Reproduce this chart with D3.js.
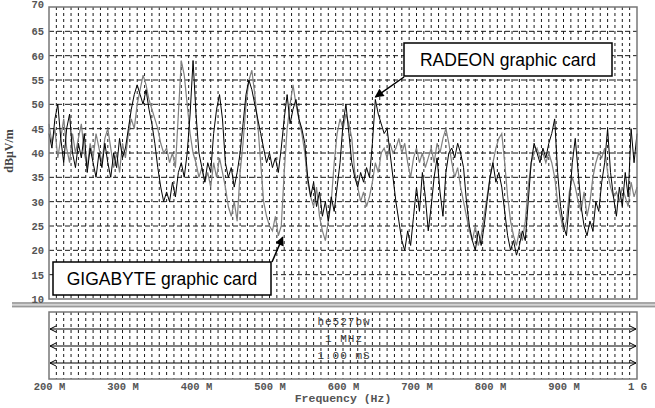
<!DOCTYPE html>
<html>
<head>
<meta charset="utf-8">
<script src="https://cdn.jsdelivr.net/npm/d3@7"></script>
<style>
  body { margin: 0; background: #fff; }
  svg { display: block; }
</style>
</head>
<body>
<div id="chart"></div>
<script>
// sample grid: 200 MHz .. 1 GHz, every 4 MHz
const freqs = d3.range(200, 1001, 4);

// RADEON graphic card (black trace), dBuV/m
const radeon = [
  44, 41, 47, 50, 43, 38, 45, 48, 40, 37,
  42, 39, 44, 36, 41, 38, 35, 40, 37, 42,
  38, 35, 40, 37, 43, 39, 41, 45, 49, 52,
  54, 52, 50, 53, 49, 46, 42, 37, 33, 30,
  32, 30, 34, 31, 36, 38, 35, 40, 48, 59,
  48, 40, 37, 34, 38, 36, 44, 49, 52, 47,
  38, 35, 37, 33, 36, 40, 46, 52, 55, 53,
  50, 47, 44, 41, 38, 40, 37, 39, 36, 41,
  47, 52, 46, 49, 51, 47, 45, 42, 35, 31,
  34, 29, 32, 27, 30, 26, 31, 28, 33, 38,
  46, 50, 44, 38, 35, 33, 36, 34, 37, 35,
  42, 51, 48, 46, 44, 45, 40, 35, 30, 26,
  22, 20, 24, 21, 27, 33, 28, 36, 31, 24,
  29, 35, 39, 32, 27, 36, 40, 41, 39, 42,
  40, 37, 30, 25, 22, 20, 24, 21, 25, 30,
  35, 38, 34, 36, 33, 28, 23, 20, 22, 19,
  21, 24, 22, 30, 38, 42, 40, 38, 41, 39,
  42, 44, 47, 36, 29, 25, 23, 30, 38, 43,
  36, 29, 25, 23, 26, 24, 30, 28, 34, 38,
  45, 36, 31, 27, 33, 29, 36, 31, 45, 38,
  44
];

// GIGABYTE graphic card (gray trace), dBuV/m
const gigabyte = [
  46, 42, 45, 39, 43, 47, 41, 38, 44, 40,
  43, 46, 40, 37, 42, 39, 44, 41, 38, 43,
  45, 41, 37, 40, 36, 42, 39, 44, 47, 45,
  50, 53, 56, 54, 51, 49, 47, 45, 42, 40,
  41, 38, 40, 37, 48, 59, 56, 50, 44, 40,
  38, 35, 37, 34, 36, 33, 38, 35, 39, 36,
  33, 29, 27, 30, 26, 36, 42, 50, 55, 57,
  52, 46, 38, 30, 27, 25, 24, 27, 23, 25,
  36, 45, 50, 54, 50, 47, 44, 40, 34, 31,
  29, 33, 27, 24, 22, 26, 30, 38, 44, 47,
  45, 48, 46, 43, 36, 33, 30, 32, 29, 31,
  34, 38, 36, 40, 41, 39, 42, 40, 41, 43,
  40, 42, 38, 35, 39, 41, 38, 40, 37, 39,
  41, 38, 42, 40, 43, 45, 42, 38, 35, 37,
  33, 30, 27, 24, 22, 25, 21, 23, 27, 31,
  35, 38, 41, 43, 44, 38, 31, 26, 23, 21,
  24, 22, 26, 33, 38, 40, 41, 39, 40, 38,
  40, 38, 35, 30, 27, 24, 26, 32, 35, 33,
  30, 28, 32, 27, 30, 35, 38, 40, 39, 41,
  36, 33, 31, 32, 30, 33, 31, 29, 34, 31,
  33
];

const xTicks = [200, 300, 400, 500, 600, 700, 800, 900, 1000];
const xTickLabels = ["200 M", "300 M", "400 M", "500 M", "600 M", "700 M", "800 M", "900 M", "1 G"];
const yTicks = [10, 15, 20, 25, 30, 35, 40, 45, 50, 55, 60, 65, 70];
const infoLines = ["he527bw", "1 MHz", "1.00 mS"];

const width = 655, height = 408;
const plot = {left: 49, right: 637, top: 7, bottom: 299};
const panel = {top: 312, bottom: 379};

const svg = d3.select("#chart")
  .append("svg")
    .attr("width", width)
    .attr("height", height);

svg.append("defs").append("marker")
    .attr("id", "head")
    .attr("viewBox", "0 0 10 10")
    .attr("refX", 9).attr("refY", 5)
    .attr("markerWidth", 11).attr("markerHeight", 9)
    .attr("markerUnits", "userSpaceOnUse")
    .attr("orient", "auto")
  .append("path")
    .attr("d", "M0,0 L10,5 L0,10 z")
    .attr("fill", "#000");

const x = d3.scaleLinear().domain([200, 1000]).range([plot.left, plot.right]);
const y = d3.scaleLinear().domain([10, 70]).range([plot.bottom, plot.top]);

// vertical dotted grid every 10 MHz, in both panels
const vgrid = d3.range(210, 1000, 10);
[[plot.top, plot.bottom], [panel.top, panel.bottom]].forEach(function(r) {
  svg.append("g").selectAll("line")
    .data(vgrid)
    .enter().append("line")
      .attr("x1", d => x(d)).attr("x2", d => x(d))
      .attr("y1", r[0]).attr("y2", r[1])
      .attr("stroke", "#1a1a1a")
      .attr("stroke-width", 1)
      .attr("stroke-dasharray", "3,3");
});

// horizontal dashed grid every 5 dB
svg.append("g").selectAll("line")
  .data(yTicks.slice(1, -1))
  .enter().append("line")
    .attr("x1", plot.left).attr("x2", plot.right)
    .attr("y1", d => y(d)).attr("y2", d => y(d))
    .attr("stroke", "#1a1a1a")
    .attr("stroke-width", 1)
    .attr("stroke-dasharray", "5,3");

// traces
const line = d3.line()
  .x((d, i) => x(freqs[i]))
  .y(d => y(d));

svg.append("path")
  .datum(gigabyte)
  .attr("d", line)
  .attr("fill", "none")
  .attr("stroke", "#808080")
  .attr("stroke-width", 1.2);

svg.append("path")
  .datum(radeon)
  .attr("d", line)
  .attr("fill", "none")
  .attr("stroke", "#000")
  .attr("stroke-width", 1);

// frames
svg.append("rect")
  .attr("x", plot.left).attr("y", plot.top)
  .attr("width", plot.right - plot.left).attr("height", plot.bottom - plot.top)
  .attr("fill", "none").attr("stroke", "#777").attr("stroke-width", 1.5);

svg.append("rect")
  .attr("x", plot.left).attr("y", panel.top)
  .attr("width", plot.right - plot.left).attr("height", panel.bottom - panel.top)
  .attr("fill", "none").attr("stroke", "#777").attr("stroke-width", 1.5);

// gray double separator
svg.append("rect")
  .attr("x", 12).attr("y", 302).attr("width", width - 12).attr("height", 5.5)
  .attr("fill", "#d4d4d4");
[303, 306.5].forEach(function(yy) {
  svg.append("line")
    .attr("x1", 12).attr("x2", width)
    .attr("y1", yy).attr("y2", yy)
    .attr("stroke", "#999").attr("stroke-width", 1.6);
});

// lower info panel: arrows + labels
const rowY = [329, 346, 363];
infoLines.forEach(function(t, i) {
  const yy = rowY[i];
  svg.append("line")
    .attr("x1", x(200) + 1).attr("x2", x(1000) - 1)
    .attr("y1", yy).attr("y2", yy)
    .attr("stroke", "#000").attr("stroke-width", 1);
  svg.append("path")
    .attr("d", `M${x(200) + 7},${yy - 3} L${x(200) + 1},${yy} L${x(200) + 7},${yy + 3}`)
    .attr("fill", "none").attr("stroke", "#000");
  svg.append("path")
    .attr("d", `M${x(1000) - 7},${yy - 3} L${x(1000) - 1},${yy} L${x(1000) - 7},${yy + 3}`)
    .attr("fill", "none").attr("stroke", "#000");
  svg.append("text")
    .attr("x", x(600) + 1).attr("y", yy - 4)
    .attr("text-anchor", "middle")
    .attr("font-family", "Liberation Mono, monospace")
    .attr("font-size", 11)
    .attr("letter-spacing", 1)
    .attr("fill", "#333")
    .text(t);
});

// axis labels
const yAxis = d3.axisLeft(y)
  .tickValues(yTicks)
  .tickSize(0)
  .tickPadding(0)
  .tickFormat(d3.format("d"));

const gy = svg.append("g")
  .attr("transform", "translate(44,0)")
  .call(yAxis);
gy.select(".domain").remove();
gy.selectAll("text")
  .attr("font-family", "Liberation Mono, monospace")
  .attr("font-weight", "bold")
  .attr("font-size", 10.5)
  .attr("fill", "#555")
  .attr("dy", d => d === 70 ? "0.05em" : "0.32em");

const xAxis = d3.axisBottom(x)
  .tickValues(xTicks)
  .tickSize(0)
  .tickPadding(0)
  .tickFormat((d, i) => xTickLabels[i]);

const gx = svg.append("g")
  .attr("transform", "translate(0,383)")
  .call(xAxis);
gx.select(".domain").remove();
gx.selectAll("text")
  .attr("font-family", "Liberation Mono, monospace")
  .attr("font-weight", "bold")
  .attr("font-size", 10.5)
  .attr("fill", "#555")
  .attr("dy", "0.71em");

svg.append("text")
  .attr("x", (plot.left + plot.right) / 2).attr("y", 402)
  .attr("text-anchor", "middle")
  .attr("font-family", "Liberation Mono, monospace")
  .attr("font-weight", "bold")
  .attr("font-size", 11.5)
  .attr("fill", "#555")
  .text("Frequency (Hz)");

svg.append("text")
  .attr("transform", "translate(13,151) rotate(-90)")
  .attr("text-anchor", "middle")
  .attr("font-family", "Liberation Serif, serif")
  .attr("font-weight", "bold")
  .attr("font-size", 12)
  .attr("fill", "#444")
  .text("dBμV/m");

// annotations
function callout(bx, by, bw, bh, label, from, to) {
  svg.append("rect")
    .attr("x", bx).attr("y", by).attr("width", bw).attr("height", bh)
    .attr("fill", "#fff").attr("stroke", "#000").attr("stroke-width", 1.5);
  svg.append("text")
    .attr("x", bx + bw / 2).attr("y", by + bh / 2 + 6)
    .attr("text-anchor", "middle")
    .attr("font-family", "Liberation Sans, Arial, sans-serif")
    .attr("font-size", 17.5)
    .attr("fill", "#000")
    .text(label);
  svg.append("line")
    .attr("x1", from[0]).attr("y1", from[1])
    .attr("x2", to[0]).attr("y2", to[1])
    .attr("stroke", "#000").attr("stroke-width", 1.5)
    .attr("marker-end", "url(#head)");
}

callout(404, 43, 208, 33, "RADEON graphic card", [404, 77], [x(644), y(51.5)]);
callout(53, 262, 218, 33, "GIGABYTE graphic card", [272, 262], [x(518), y(22.7)]);
</script>
</body>
</html>
